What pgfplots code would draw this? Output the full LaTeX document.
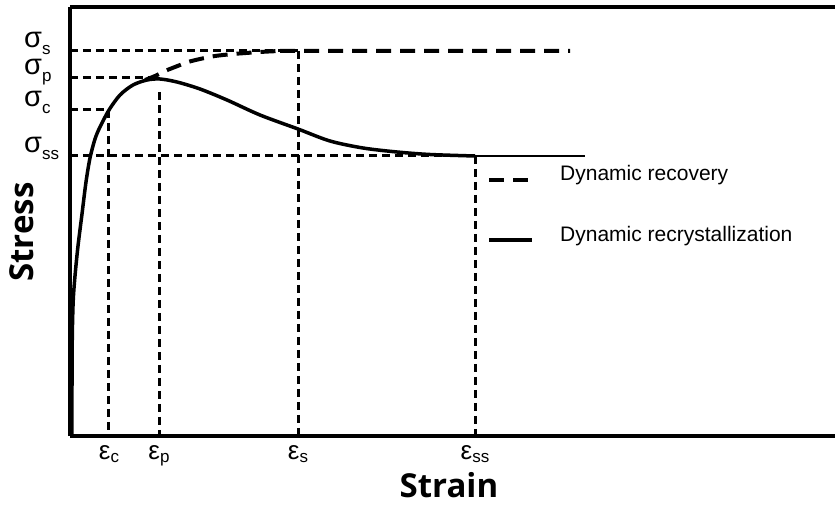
\documentclass[border=0pt]{standalone}
\usepackage{pgfplots}
\pgfplotsset{compat=1.18}
\usepackage{fontspec}
\setmainfont{Liberation Sans}
\newfontfamily\labfont{Open Sans}
\newcommand\sig[1]{{\fontsize{29bp}{29bp}\selectfont σ}\raisebox{-7bp}{\fontsize{17bp}{17bp}\selectfont #1}}
\newcommand\eps[1]{{\fontsize{26bp}{26bp}\selectfont ε}\raisebox{-3bp}{\fontsize{17bp}{17bp}\selectfont #1}}
\begin{document}
\begin{tikzpicture}
\useasboundingbox (-70bp,-69bp) rectangle (765bp,436bp);
\begin{axis}[
  scale only axis, width=765bp, height=429bp,
  xmin=70, xmax=835, ymin=0, ymax=429,
  axis x line=box, axis y line=left,
  axis line style={-, line width=4bp},
  major tick length=0pt,
  xtick={109,159,298,475}, xticklabels={\eps{c},\eps{p},\eps{s},\eps{ss}},
  ytick={280,326,358,385}, yticklabels={\sig{ss},\sig{c},\sig{p},\sig{s}},
  xticklabel style={anchor=base, inner sep=0pt, yshift=-23bp},
  yticklabel style={anchor=base west, inner sep=0pt, xshift=-46bp, yshift=3.5bp},
  xlabel={\labfont\bfseries Strain}, ylabel={\labfont\bfseries Stress},
  xlabel style={at={(axis description cs:0.4954,0)}, anchor=base, yshift=-61bp, inner sep=0pt, font=\fontsize{33bp}{33bp}\selectfont},
  ylabel style={at={(axis description cs:-0.0628,0.4755)}, anchor=center, inner sep=0pt, font=\fontsize{33bp}{33bp}\selectfont},
  legend cell align=left,
  legend style={at={(axis cs:487,273)}, anchor=north west, draw=none, fill=none, inner sep=0pt, row sep=40bp, column sep=24bp, font=\fontsize{21bp}{25bp}\selectfont},
  legend image code/.code={\draw[#1] (0bp,-6bp) -- (43bp,-6bp);},
  clip=false,
]
% reference lines
\addplot[black, line width=3bp, dash pattern=on 8bp off 5bp, forget plot] coordinates {(70,385)(298,385)};
\addplot[black, line width=3bp, dash pattern=on 8bp off 5bp, forget plot] coordinates {(298,385)(298,0)};
\addplot[black, line width=3bp, dash pattern=on 8bp off 5bp, forget plot] coordinates {(70,358)(159,358)};
\addplot[black, line width=3bp, dash pattern=on 8bp off 5bp, forget plot] coordinates {(159,344)(159,0)};
\addplot[black, line width=3bp, dash pattern=on 8bp off 5bp, forget plot] coordinates {(70,326)(109,326)};
\addplot[black, line width=3bp, dash pattern=on 8bp off 5bp, forget plot] coordinates {(109,326)(109,0)};
\addplot[black, line width=3bp, dash pattern=on 8bp off 5bp, forget plot] coordinates {(70,280)(475,280)};
\addplot[black, line width=3bp, dash pattern=on 8bp off 5bp, forget plot] coordinates {(475,280)(475,0)};
% dynamic recovery
\addplot[black, line width=4bp, dash pattern=on 15bp off 9bp, smooth, tension=0.4] coordinates {(145,356)(155,360)(165,365)(175,369)(188,374)(200,377)(215,380)(233,382)(260,384)(280,385)(298,385)(570,385)};
\addlegendentry{Dynamic recovery}
% dynamic recrystallization
\addplot[black, line width=3.5bp, smooth, tension=0.5] coordinates {(72,0)(72,50)(72.3,100)(73.2,135)(75,160)(78,190)(82,222)(86,254)(90,278)(95,297)(100,309)(109,326)(120,341)(133,351)(147,356)(160,357)(177,354)(200,347)(227,336)(260,321)(298,307)(330,295)(363,288)(397,284)(430,281.5)(475,280)};
\addlegendentry{Dynamic recrystallization}
\addplot[black, line width=2bp, forget plot] coordinates {(475,280)(585,280)};
\end{axis}
\end{tikzpicture}
\end{document}
